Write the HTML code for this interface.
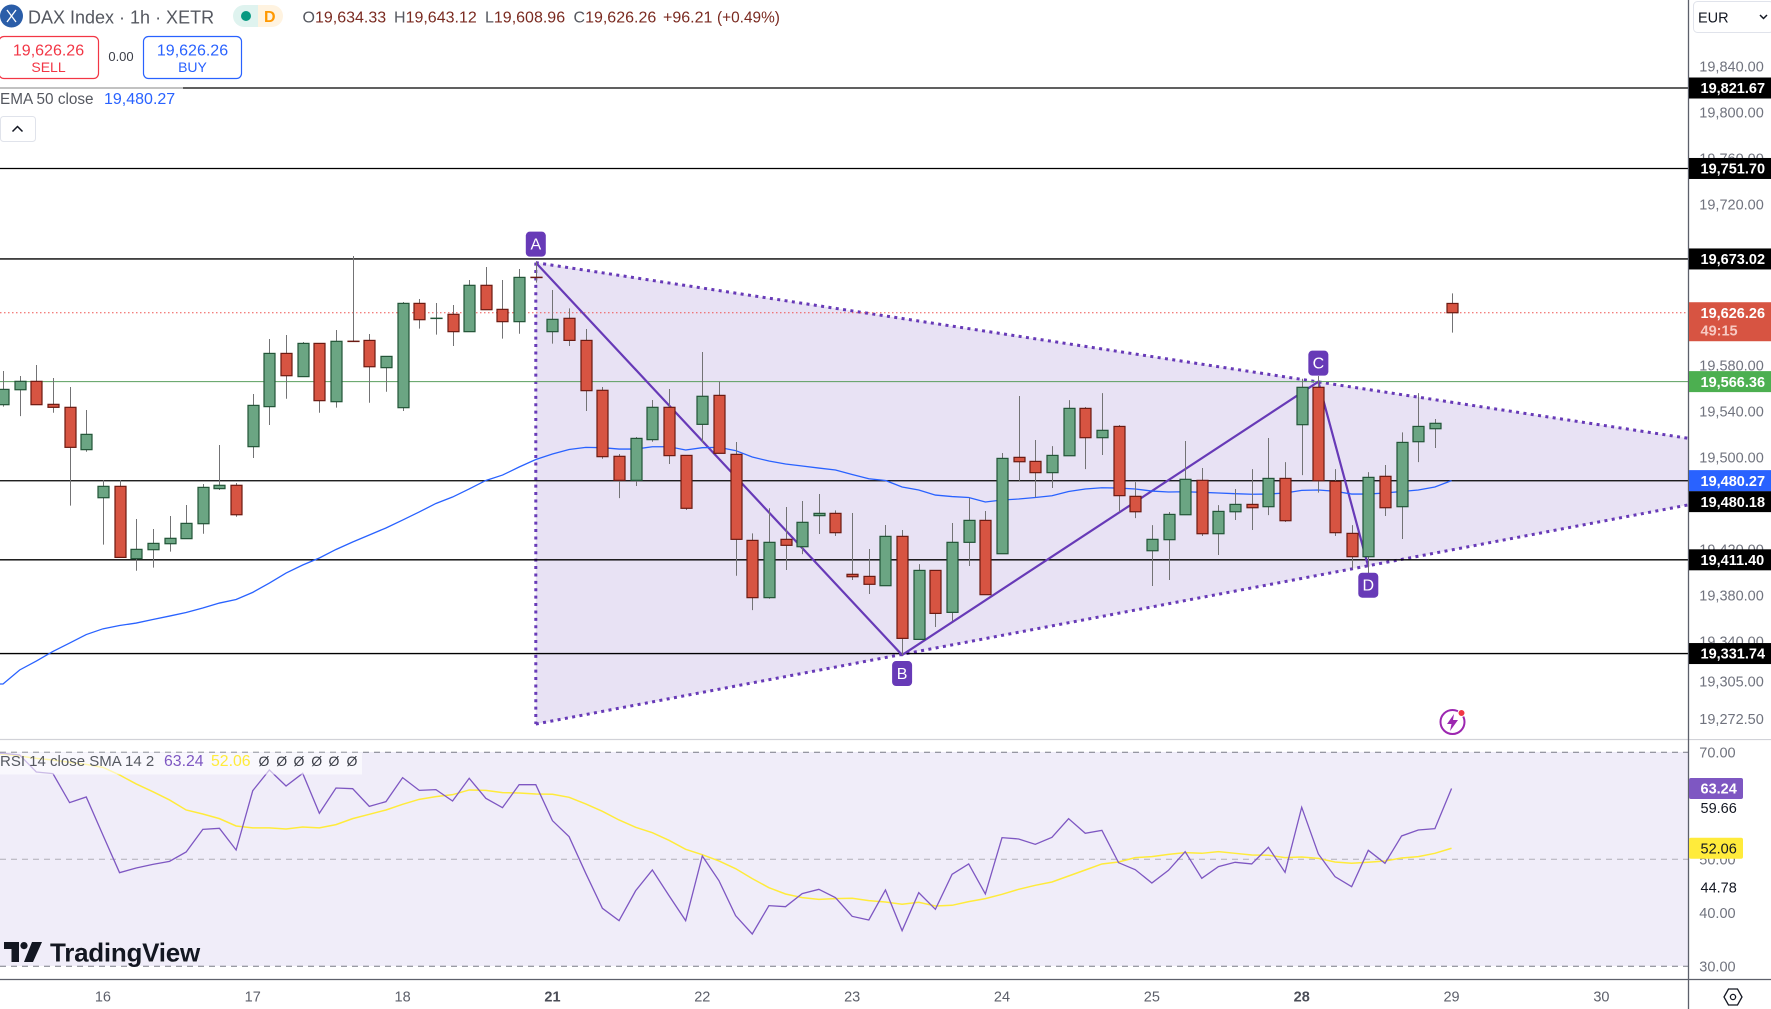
<!DOCTYPE html>
<html lang="en">
<head>
<meta charset="utf-8">
<title>DAX Index 1h chart</title>
<style>
html,body{margin:0;padding:0;background:#fff;width:1771px;height:1009px;overflow:hidden}
svg{display:block;font-family:"Liberation Sans",sans-serif}
</style>
</head>
<body>
<svg id="chart" xmlns="http://www.w3.org/2000/svg" width="1771" height="1009" viewBox="0 0 1771 1009">
  <rect width="1771" height="1009" fill="#ffffff"/>
  <rect x="0" y="752" width="1688" height="214" fill="#f0edf9"/>
  <g id="overlays"></g>
  <g id="candles"></g>
  <g id="rsi"></g>
  <g id="badges"></g>

  <g>
    <circle cx="1452.5" cy="722" r="12" fill="#fff" stroke="#9c27b0" stroke-width="2"/>
    <polygon points="1454,714 1447,724 1451.5,724 1450,731 1458,720 1453,720" fill="#9c27b0"/>
    <circle cx="1461.5" cy="713" r="3.5" fill="#f23645" stroke="#fff" stroke-width="1"/>
  </g>

  <g>
    <circle cx="11.5" cy="16" r="11.5" fill="#2a5da8"/>
    <path d="M7 10 L16 22 M16 10 L7 22" stroke="#fff" stroke-width="1.3" fill="none"/>
    <text x="28" y="23.5" font-size="18" fill="#555860">DAX Index · 1h · XETR</text>
    <path d="M258 5 H244 A11 11 0 0 0 244 27 H258 Z" fill="#dff3ef"/>
    <path d="M258 5 H272 A11 11 0 0 1 272 27 H258 Z" fill="#fff3e0"/>
    <circle cx="246" cy="16" r="5" fill="#089981"/>
    <text x="264" y="22" font-size="16" font-weight="bold" fill="#ff9800">D</text>
    <g font-size="16" fill="#7a2a20">
      <text x="302.5" y="22.3"><tspan fill="#555860">O</tspan>19,634.33</text>
      <text x="394" y="22.3"><tspan fill="#555860">H</tspan>19,643.12</text>
      <text x="485" y="22.3"><tspan fill="#555860">L</tspan>19,608.96</text>
      <text x="573.5" y="22.3"><tspan fill="#555860">C</tspan>19,626.26</text>
      <text x="663" y="22.3">+96.21</text>
      <text x="717" y="22.3" font-size="15.4">(+0.49%)</text>
    </g>
  </g>

  <g>
    <rect x="-1" y="36.5" width="99.5" height="42" rx="5" fill="#fff" stroke="#f23645" stroke-width="1.2"/>
    <text x="48.5" y="55.5" font-size="16" text-anchor="middle" fill="#f23645">19,626.26</text>
    <text x="48.5" y="72" font-size="14" text-anchor="middle" fill="#f23645">SELL</text>
  </g>
  <text x="121" y="61" font-size="13" text-anchor="middle" fill="#3a3d46">0.00</text>
  <g>
    <rect x="143.5" y="36.5" width="98" height="42" rx="5" fill="#fff" stroke="#2962ff" stroke-width="1.2"/>
    <text x="192.5" y="55.5" font-size="16" text-anchor="middle" fill="#2962ff">19,626.26</text>
    <text x="192.5" y="72" font-size="14" text-anchor="middle" fill="#2962ff">BUY</text>
  </g>

  <g>
    <rect x="0" y="87" width="183" height="29" fill="#ffffff" fill-opacity="0.62"/>
    <text x="0" y="104" font-size="15.3" fill="#555860">EMA 50 close</text>
    <text x="104" y="104" font-size="16" fill="#2962ff">19,480.27</text>
  </g>
  <g>
    <rect x="0.5" y="116.5" width="35" height="25" rx="3" fill="#fff" stroke="#e0e3eb"/>
    <path d="M12.5 131.5 L17.5 126.5 L22.5 131.5" fill="none" stroke="#131722" stroke-width="1.5"/>
  </g>

  <g>
    <rect x="0" y="752.5" width="362" height="22" fill="#ffffff" fill-opacity="0.6"/>
    <text x="0" y="766" font-size="15" fill="#555860">RSI 14 close SMA 14 2</text>
    <text x="164" y="766" font-size="15.8" fill="#7e57c2">63.24</text>
    <text x="211" y="766" font-size="15.8" fill="#ffeb3b">52.06</text>
    <g font-size="14" fill="#3a3d46" text-anchor="middle">
      <text x="264" y="766">Ø</text><text x="281.7" y="766">Ø</text><text x="299" y="766">Ø</text><text x="316.7" y="766">Ø</text><text x="334" y="766">Ø</text><text x="352" y="766">Ø</text>
    </g>
  </g>

  <g>
    <g transform="translate(4,942)" fill="#131722">
      <path d="M0 0 H15 V20 H7.5 V7 H0 Z"/>
      <circle cx="20" cy="3.6" r="3.6"/>
      <path d="M28 0 H38 L29 20 H20 Z"/>
    </g>
    <text x="50" y="961.7" font-size="26" font-weight="bold" letter-spacing="-0.25" fill="#131722" stroke="#ffffff" stroke-width="0.4" paint-order="stroke">TradingView</text>
  </g>

  <g id="axes"></g>

  <g>
    <rect x="1693.5" y="1.5" width="80" height="31" rx="4" fill="#fff" stroke="#e0e3eb"/>
    <text x="1698" y="22.7" font-size="14.5" fill="#131722">EUR</text>
    <path d="M1760 15 L1763.5 18.5 L1767 15" fill="none" stroke="#131722" stroke-width="1.5"/>
  </g>
  <g>
    <path d="M1724 997 L1728.5 989 H1737.5 L1742 997 L1737.5 1005 H1728.5 Z" fill="none" stroke="#131722" stroke-width="1.3"/>
    <circle cx="1733" cy="997" r="2.6" fill="none" stroke="#131722" stroke-width="1.3"/>
  </g>
</svg>

<script>
// ---- chart data ----
const opens = [
19546.3,19559.3,19566.6,19546.6,19544.0,19507.2,19465.4,19475.3,19412.4,19420.2,
19425.4,19429.8,19442.8,19473.3,19476.2,19509.8,19544.6,19590.9,19570.7,19599.6,
19548.9,19601.5,19602.2,19578.5,19543.7,19634.4,19621.3,19624.9,19609.8,19650.1,
19629.2,19618.5,19657.1,19609.8,19621.4,19602.2,19558.8,19501.4,19480.5,19515.9,
19544.0,19502.2,19529.2,19554.4,19503.1,19428.3,19378.5,19429.2,19422.8,19449.8,
19451.8,19398.8,19397.0,19388.9,19431.8,19342.2,19402.2,19365.7,19426.6,19445.7,
19416.7,19500.5,19497.0,19487.2,19501.9,19543.1,19517.6,19527.4,19466.6,19419.3,
19428.9,19450.6,19480.5,19434.1,19453.2,19459.6,19457.6,19482.2,19528.9,19561.4,
19479.6,19434.4,19414.1,19484.0,19457.6,19514.1,19525.4,19634.33];
const highs = [
19575.6,19571.2,19580.8,19569.5,19561.7,19541.7,19480.5,19480.8,19446.9,19438.2,
19449.5,19459.1,19477.3,19511.2,19478.2,19555.6,19603.4,19606.9,19600.8,19599.6,
19611.2,19675.6,19607.8,19588.3,19635.6,19638.2,19634.7,19633.0,19654.7,19666.0,
19654.7,19664.3,19670.4,19646.0,19630.1,19612.1,19561.7,19503.4,19518.2,19550.4,
19559.9,19502.2,19592.1,19566.6,19513.8,19434.4,19456.2,19457.3,19462.5,19468.6,
19454.4,19452.1,19420.8,19441.7,19437.3,19407.7,19402.2,19443.4,19465.1,19453.8,
19504.3,19553.8,19515.6,19510.3,19550.3,19544.3,19556.4,19528.6,19479.0,19441.6,
19453.0,19514.7,19491.2,19459.0,19473.0,19490.3,19517.3,19496.4,19568.9,19571.2,
19490.3,19441.6,19487.7,19493.8,19522.2,19556.4,19533.8,19643.12];
const lows = [
19544.6,19536.4,19546.3,19539.3,19458.5,19505.4,19424.6,19413.5,19401.9,19404.6,
19418.5,19429.8,19434.1,19472.1,19448.9,19499.9,19528.6,19551.5,19570.7,19539.3,
19543.7,19601.3,19548.0,19557.6,19540.8,19612.4,19607.2,19597.3,19609.8,19628.9,
19603.7,19608.0,19652.4,19599.4,19597.3,19540.8,19499.3,19465.1,19475.6,19514.1,
19494.7,19454.7,19513.3,19504.0,19397.6,19367.7,19377.6,19402.5,19416.4,19433.8,
19432.1,19393.8,19381.7,19388.9,19328.6,19342.2,19353.0,19358.2,19406.0,19381.1,
19416.7,19479.3,19465.7,19473.8,19501.9,19490.3,19502.5,19453.2,19447.7,19388.6,
19393.8,19450.6,19432.1,19415.6,19446.0,19437.3,19450.3,19444.3,19485.1,19469.8,
19432.1,19404.0,19399.6,19449.5,19429.5,19496.4,19508.6,19608.96];
const closes = [
19559.6,19566.6,19546.3,19544.0,19509.2,19520.5,19475.3,19413.5,19420.5,19425.7,
19430.1,19443.1,19474.4,19476.2,19450.6,19545.7,19590.9,19571.5,19599.6,19549.8,
19601.4,19601.3,19579.3,19588.3,19634.4,19620.2,19621.5,19609.8,19650.1,19628.9,
19618.5,19657.0,19656.9,19620.5,19602.2,19558.5,19501.1,19480.5,19517.0,19544.0,
19502.0,19456.2,19553.6,19504.0,19429.2,19378.5,19426.6,19424.0,19444.0,19451.8,
19435.0,19396.7,19390.1,19431.8,19343.1,19402.2,19364.8,19426.6,19445.7,19381.1,
19499.6,19496.7,19487.2,19502.2,19543.1,19517.6,19524.0,19467.2,19453.2,19429.2,
19450.9,19481.4,19434.1,19453.5,19459.6,19456.7,19482.2,19445.4,19561.4,19480.2,
19435.0,19414.1,19483.1,19456.7,19513.5,19527.4,19530.1,19626.26];
const emaValues = [
19303.4,19315.6,19323.4,19331.7,19339.0,19346.4,19351.4,19354.3,19356.4,19359.5,
19362.5,19365.6,19369.5,19373.8,19376.9,19383.1,19391.2,19399.9,19406.9,19413.0,
19420.4,19426.9,19433.0,19439.1,19446.0,19453.0,19460.4,19466.0,19473.0,19480.4,
19485.1,19492.1,19498.6,19503.4,19507.3,19509.2,19508.9,19507.7,19507.7,19509.7,
19509.7,19506.9,19508.9,19509.2,19506.4,19500.8,19497.3,19494.7,19493.0,19491.2,
19489.5,19485.6,19481.9,19480.4,19474.7,19472.1,19467.7,19466.4,19465.6,19461.7,
19463.4,19464.3,19465.6,19467.1,19470.8,19473.0,19474.1,19473.8,19473.0,19471.2,
19470.4,19470.6,19470.1,19469.5,19468.9,19468.4,19468.6,19469.5,19471.8,19472.1,
19471.0,19468.6,19468.6,19469.5,19470.8,19472.1,19474.7,19480.27];
const rsiValues = [
69.81,69.5,66.32,66.01,60.59,61.65,54.55,47.5,48.38,49.06,
49.62,51.37,55.6,55.79,51.74,62.83,66.69,63.7,66.07,58.6,
63.33,63.2,59.9,60.78,65.26,62.89,63.02,60.9,65.14,61.4,
59.65,63.95,63.95,57.22,54.23,47.38,40.84,38.53,44.14,48.0,
43.21,38.53,50.62,46.01,39.47,36.04,41.34,41.15,43.58,44.39,
42.83,39.34,38.66,44.27,36.66,43.77,40.65,47.19,49.13,43.52,
54.05,53.8,52.8,54.11,57.6,54.86,55.42,49.37,48.07,45.57,
47.94,51.43,46.45,48.63,49.44,49.13,52.24,47.57,59.72,50.99,
46.76,44.89,51.68,49.25,54.36,55.48,55.73,63.24];
const rsiSmaValues = [
69.68,69.31,68.87,68.56,68.13,67.75,67.19,65.76,64.08,62.64,
61.09,59.22,58.47,57.6,56.23,55.87,55.87,55.67,56.04,55.87,
56.48,57.6,58.41,59.22,60.28,61.21,61.71,62.08,62.96,62.89,
62.46,62.4,62.21,62.15,61.59,60.34,58.97,57.35,55.98,54.98,
53.55,51.87,50.87,49.69,48.25,46.39,44.7,43.52,42.83,42.52,
42.65,42.71,42.27,42.02,41.59,41.96,41.28,41.4,42.09,42.65,
43.46,44.39,45.14,45.76,46.88,48.0,49.13,49.5,50.31,50.5,
50.93,51.24,51.12,51.43,51.12,50.81,50.75,50.31,50.43,50.18,
49.5,49.25,49.44,49.69,50.25,50.5,51.12,52.06];
const priceTicks = [19840,19800,19760,19720,19580,19540,19500,19420,19380,19340,19305,19272.5];
const rsiTicks = [70,50,40,30];
const rsiExtraTicks = [59.66,44.78];
const dayLabels = ['16','17','18','21','22','23','24','25','28','29','30'];
const dayIndexes = [6,15,24,33,42,51,60,69,78,87,96];
const boldDays = ['21','28'];
const levelPrices = [19821.67,19751.70,19673.02,19480.18,19411.40,19329.9];
const levelLabels = ['19,821.67','19,751.70','19,673.02','19,480.18','19,411.40','19,331.74'];
const currentPrice = 19626.26;
const countdownLabel = '49:15';
const greenLevel = 19566.36;
const emaLast = 19480.27;
// A, B, C, D pattern pivots (bar index / price) and triangle corners
const pivotNames = ['A','B','C','D'];
const pivotBars = [32,54,79,82];
const pivotPrices = [19669.8,19328.6,19566.3,19405.4];
const triangleBars = [32,101.2,101.2,32];
const trianglePrices = [19669.8,19517.1,19459.1,19268.6];

// ---- axis functions ----
const NS = 'http://www.w3.org/2000/svg';
function xAt(i){ return 3 + 16.65 * i; }
function yPrice(p){ return (19898.2 - p) * 1.15; }
function yRsi(v){ return 966.3 - (v - 30) * 5.35; }
function fmt(v){ return v.toLocaleString('en-US',{minimumFractionDigits:2,maximumFractionDigits:2}); }
function mk(tag, attrs, parent){
  const el = document.createElementNS(NS, tag);
  for (const k in attrs) el.setAttribute(k, attrs[k]);
  parent.appendChild(el);
  return el;
}
function pathFrom(values, yFn){
  return 'M0 ' + yFn(values[0]).toFixed(2) + ' ' + values.map(function(v,i){ return 'L' + xAt(i).toFixed(2) + ' ' + yFn(v).toFixed(2); }).join(' ');
}

const overlays = document.getElementById('overlays');
const candlesLayer = document.getElementById('candles');
const rsiLayer = document.getElementById('rsi');
const badgesLayer = document.getElementById('badges');
const axes = document.getElementById('axes');

// ---- triangle + pattern ----
const triPts = triangleBars.map(function(b,i){ return [xAt(b), yPrice(trianglePrices[i])]; });
const triFill = mk('polygon',{points:triPts.map(function(p){return p.join(',');}).join(' '),fill:'#673ab7','fill-opacity':'0.15'},overlays);


[[0,1,'triangle-upper-edge'],[3,2,'triangle-lower-edge'],[0,3,'triangle-left-edge']].forEach(function(s){
  const edge = mk('line',{x1:triPts[s[0]][0],y1:triPts[s[0]][1],x2:triPts[s[1]][0],y2:triPts[s[1]][1],stroke:'#673ab7','stroke-width':'3','stroke-dasharray':'3 4.4'},overlays);
  
  
});

// ---- horizontal levels ----
levelPrices.forEach(function(p,i){
  const ln = mk('line',{x1:0,x2:1688,y1:yPrice(p),y2:yPrice(p),stroke:'#000','stroke-width':'1.3'},overlays);
  
  
});
const gl = mk('line',{x1:0,x2:1688,y1:yPrice(greenLevel),y2:yPrice(greenLevel),stroke:'#5a9e5e','stroke-width':'1'},overlays);


const cl = mk('line',{x1:0,x2:1688,y1:yPrice(currentPrice),y2:yPrice(currentPrice),stroke:'#ef5350','stroke-width':'1','stroke-dasharray':'1.5 2.5'},overlays);



// ---- zigzag ----
const zigD = pivotBars.map(function(b,i){ return (i ? 'L' : 'M') + xAt(b) + ' ' + yPrice(pivotPrices[i]); }).join(' ');
const zig = mk('path',{d:zigD,fill:'none',stroke:'#673ab7','stroke-width':'2.2'},overlays);



// ---- EMA ----
const ema = mk('path',{d:pathFrom(emaValues,yPrice),fill:'none',stroke:'#2962ff','stroke-width':'1.3'},overlays);



// ---- candles ----
opens.forEach(function(o,i){
  const c = closes[i], up = c >= o;
  const cx = Math.round(xAt(i)) + 0.5;
  const g = mk('g',{},candlesLayer);
  
  
  mk('line',{x1:cx,x2:cx,y1:yPrice(highs[i]),y2:yPrice(lows[i]),stroke:'#737375','stroke-width':'1'},g);
  const top = yPrice(Math.max(o,c)), bot = yPrice(Math.min(o,c));
  mk('rect',{x:cx-5.5,y:top,width:11,height:Math.max(bot-top,0.3),fill:up?'#6ba583':'#d75442',stroke:up?'#225437':'#6b1a12','stroke-width':'1.2'},g);
});

// ---- badges ----
pivotNames.forEach(function(n,i){
  const x = xAt(pivotBars[i]) , y = yPrice(pivotPrices[i]);
  const above = (n === 'A' || n === 'C');
  const top = above ? y - 31 : y + 6;
  const g = mk('g',{},badgesLayer);
  
  
  mk('rect',{x:x-10,y:top,width:20,height:25,rx:4,fill:'#673ab7'},g);
  const t = mk('text',{x:x,y:top+18,'font-size':'16','text-anchor':'middle',fill:'#fff'},g);
  t.textContent = n;
});

// ---- RSI pane ----
[[70,'#787b86','rsi-upper-band'],[50,'#b0aeb8','rsi-middle-band'],[30,'#787b86','rsi-lower-band']].forEach(function(b){
  const ln = mk('line',{x1:0,x2:1688,y1:yRsi(b[0]),y2:yRsi(b[0]),stroke:b[1],'stroke-width':'1','stroke-dasharray':'6 5'},rsiLayer);
  
  
});
const smaLine = mk('path',{d:pathFrom(rsiSmaValues,yRsi),fill:'none',stroke:'#ffeb3b','stroke-width':'1.5'},rsiLayer);


const rsiLine = mk('path',{d:pathFrom(rsiValues,yRsi),fill:'none',stroke:'#7e57c2','stroke-width':'1.3'},rsiLayer);



// ---- axes ----
const sep = mk('line',{x1:0,x2:1771,y1:739.5,y2:739.5,stroke:'#d1d2d8','stroke-width':'1.2'},axes);


const bottomAxis = mk('line',{x1:0,x2:1771,y1:979.5,y2:979.5,stroke:'#5d606b','stroke-width':'1.2'},axes);


const mask = mk('rect',{x:1689,y:0,width:82,height:739,fill:'#fff'},axes);


const rightAxis = mk('line',{x1:1688.5,x2:1688.5,y1:0,y2:1009,stroke:'#5d606b','stroke-width':'1.3'},axes);



priceTicks.forEach(function(p){
  const t = mk('text',{x:1699.3,y:yPrice(p)+4.4,'font-size':'14.5',fill:'#70737e'},axes);
  
  
  t.textContent = fmt(p);
});
rsiTicks.forEach(function(v){
  const t = mk('text',{x:1699.3,y:yRsi(v)+5.2,'font-size':'14.5',fill:'#70737e'},axes);
  
  
  t.textContent = fmt(v);
});
rsiExtraTicks.forEach(function(v){
  const t = mk('text',{x:1700.5,y:yRsi(v)+5.2,'font-size':'14.5',fill:'#131722'},axes);
  
  
  t.textContent = fmt(v);
});

function priceTag(y, label, bg, fg, width, h, name){
  const g = mk('g',{},axes);
  
  
  mk('rect',{x:1689,y:y-10.5,width:width,height:h,fill:bg,rx:width<80?2:0},g);
  const t = mk('text',{x:1700.5,y:y+5.2,'font-size':'14.5','font-weight':'bold',fill:fg},g);
  t.textContent = label;
  return g;
}
// Labels that would collide with the EMA tag are stacked directly beneath it.
const emaTagY = yPrice(emaLast);
levelPrices.forEach(function(p,i){
  const ly = yPrice(p);
  const tagY = Math.abs(ly - emaTagY) < 21 ? emaTagY + 21 : ly;
  priceTag(tagY, levelLabels[i], '#000000', '#ffffff', 82, 21, 'level-label-' + i);
});
const curTag = priceTag(yPrice(currentPrice), fmt(currentPrice), '#d75442', '#ffffff', 82, 39, 'current-price-label');
const cdText = mk('text',{x:1700.5,y:yPrice(currentPrice)+23,'font-size':'14.5','font-weight':'bold',fill:'#f7c9c2'},curTag);


cdText.textContent = countdownLabel;
priceTag(yPrice(greenLevel), fmt(greenLevel), '#4caf50', '#ffffff', 82, 21, 'green-level-label');
priceTag(emaTagY, fmt(emaLast), '#2962ff', '#ffffff', 82, 21, 'ema-price-label');
priceTag(yRsi(rsiValues[rsiValues.length-1]), fmt(rsiValues[rsiValues.length-1]), '#7e57c2', '#ffffff', 54, 21, 'rsi-price-label');
priceTag(yRsi(rsiSmaValues[rsiSmaValues.length-1]), fmt(rsiSmaValues[rsiSmaValues.length-1]), '#ffeb3b', '#131722', 54, 21, 'rsi-sma-price-label').querySelector('text').setAttribute('font-weight','normal');

dayLabels.forEach(function(d,i){
  const bold = boldDays.indexOf(d) >= 0;
  const t = mk('text',{x:xAt(dayIndexes[i]),y:1001.5,'font-size':'14.5','text-anchor':'middle','font-weight':bold?'bold':'normal',fill:bold?'#4a4d57':'#5d606b'},axes);
  
  
  t.textContent = d;
});
</script>
</body>
</html>
